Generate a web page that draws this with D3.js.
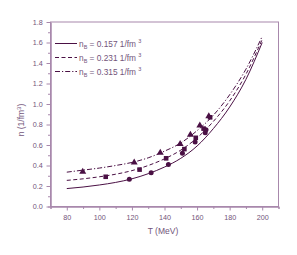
<!DOCTYPE html>
<html>
<head>
<meta charset="utf-8">
<script src="https://cdn.jsdelivr.net/npm/d3@7"></script>
<style>
  body { margin: 0; background: #fff; }
  svg { display: block; font-family: 'Liberation Sans', Arial, sans-serif; }
</style>
</head>
<body>
<svg id="chart"></svg>
<script>
// Curve samples (T in MeV, n in 1/fm^3)
const curveT = [80, 90, 100, 110, 120, 130, 140, 150, 160, 170, 180, 190, 200];
const solidN = [0.175, 0.19, 0.21, 0.235, 0.27, 0.32, 0.385, 0.47, 0.59, 0.76, 0.97, 1.24, 1.60];
const dashN = [0.255, 0.27, 0.29, 0.315, 0.35, 0.40, 0.465, 0.55, 0.67, 0.83, 1.03, 1.29, 1.63];
const dashDotN = [0.335, 0.355, 0.375, 0.40, 0.43, 0.475, 0.54, 0.62, 0.74, 0.89, 1.09, 1.34, 1.66];

// Data points
const circleT = [118.4, 131.8, 142.4, 151, 158.8, 165, 165.5];
const circleN = [0.265, 0.33, 0.41, 0.52, 0.63, 0.72, 0.75];
const squareT = [103.9, 124.7, 141, 152.2, 159.2, 164, 168];
const squareN = [0.29, 0.36, 0.47, 0.56, 0.67, 0.76, 0.87];
const triT = [89.8, 121.4, 137.4, 149.6, 155.9, 161.7, 167.2];
const triN = [0.34, 0.43, 0.525, 0.61, 0.70, 0.79, 0.88];

const legendLabels = ['0.157', '0.231', '0.315'];
const dashes = [null, '4,2.5', '5,2,1.2,2'];

const WIDTH = 297, HEIGHT = 255;
const margin = { left: 50.5, right: 18.5, top: 22, bottom: 48.5 };
const ink = '#4a1044', axisCol = '#a888ac', textCol = '#72547a';

const svg = d3.select('#chart').attr('width', WIDTH).attr('height', HEIGHT);

const x = d3.scaleLinear().domain([70, 210]).range([margin.left, WIDTH - margin.right]);
const y = d3.scaleLinear().domain([0, 1.8]).range([HEIGHT - margin.bottom, margin.top]);

// Frame
svg.append('rect')
  .attr('x', x(70)).attr('y', y(1.8))
  .attr('width', x(210) - x(70)).attr('height', y(0) - y(1.8))
  .attr('fill', 'none').attr('stroke', axisCol).attr('stroke-width', 1);

// Axes
const xAxis = svg.append('g')
  .attr('transform', `translate(0,${y(0)})`)
  .call(d3.axisBottom(x).tickValues(d3.range(80, 201, 20)).tickSize(4).tickSizeOuter(0));
svg.append('g')
  .attr('transform', `translate(0,${y(0)})`)
  .call(d3.axisBottom(x).tickValues(d3.range(70, 211, 20)).tickSize(2.5).tickFormat(''));

const yAxis = svg.append('g')
  .attr('transform', `translate(${x(70)},0)`)
  .call(d3.axisLeft(y).tickValues(d3.range(0, 1.81, 0.2)).tickSize(4).tickSizeOuter(0).tickFormat(d3.format('.1f')));
svg.append('g')
  .attr('transform', `translate(${x(70)},0)`)
  .call(d3.axisLeft(y).tickValues(d3.range(0.1, 1.8, 0.2)).tickSize(2.5).tickFormat(''));

svg.selectAll('.domain').attr('stroke', axisCol);
svg.selectAll('.tick line').attr('stroke', axisCol);
svg.selectAll('.tick text').attr('fill', textCol).attr('font-size', 7.2)
  .attr('font-family', "'Liberation Sans', Arial, sans-serif");
xAxis.selectAll('.tick text').attr('dy', '0.95em');
yAxis.selectAll('.tick text').attr('dx', '-0.1em');

// Axis titles
svg.append('text')
  .attr('x', 163).attr('y', 234)
  .attr('text-anchor', 'middle').attr('fill', textCol).attr('font-size', 8.5)
  .text('T (MeV)');

const yTitle = svg.append('text')
  .attr('transform', `translate(24,120) rotate(-90)`)
  .attr('text-anchor', 'middle').attr('fill', textCol).attr('font-size', 8.5);
yTitle.append('tspan').text('n (1/fm');
yTitle.append('tspan').attr('dy', -3).attr('font-size', 6).text('3');
yTitle.append('tspan').attr('dy', 3).text(')');

// Curves
const line = d3.line()
  .x(d => x(d[0]))
  .y(d => y(d[1]))
  .curve(d3.curveMonotoneX);

[solidN, dashN, dashDotN].forEach((ns, i) => {
  svg.append('path')
    .datum(curveT.map((t, j) => [t, ns[j]]))
    .attr('d', line)
    .attr('fill', 'none')
    .attr('stroke', ink)
    .attr('stroke-width', 1)
    .attr('stroke-dasharray', dashes[i]);
});

// Markers
svg.append('g').selectAll('circle')
  .data(circleT.map((t, i) => [t, circleN[i]]))
  .enter().append('circle')
  .attr('cx', d => x(d[0])).attr('cy', d => y(d[1]))
  .attr('r', 2.5).attr('fill', ink);

svg.append('g').selectAll('rect')
  .data(squareT.map((t, i) => [t, squareN[i]]))
  .enter().append('rect')
  .attr('x', d => x(d[0]) - 2.3).attr('y', d => y(d[1]) - 2.3)
  .attr('width', 4.6).attr('height', 4.6).attr('fill', ink);

const tri = d3.symbol().type(d3.symbolTriangle).size(21);
svg.append('g').selectAll('path')
  .data(triT.map((t, i) => [t, triN[i]]))
  .enter().append('path')
  .attr('transform', d => `translate(${x(d[0])},${y(d[1])})`)
  .attr('d', tri).attr('fill', ink);

// Legend
const legend = svg.append('g');
const rowY = [43.5, 57.5, 71.5];
legendLabels.forEach((lab, i) => {
  legend.append('line')
    .attr('x1', 55).attr('x2', 77)
    .attr('y1', rowY[i]).attr('y2', rowY[i])
    .attr('stroke', ink).attr('stroke-width', 1)
    .attr('stroke-dasharray', dashes[i]);
  const t = legend.append('text')
    .attr('x', 79).attr('y', rowY[i] + 3)
    .attr('fill', textCol).attr('font-size', 8.3);
  t.append('tspan').text('n');
  t.append('tspan').attr('dy', 2).attr('font-size', 5.5).text('B');
  t.append('tspan').attr('dy', -2).text(` = ${lab} 1/fm `);
  t.append('tspan').attr('dy', -4).attr('font-size', 5.5).text('3');
});
</script>
</body>
</html>
